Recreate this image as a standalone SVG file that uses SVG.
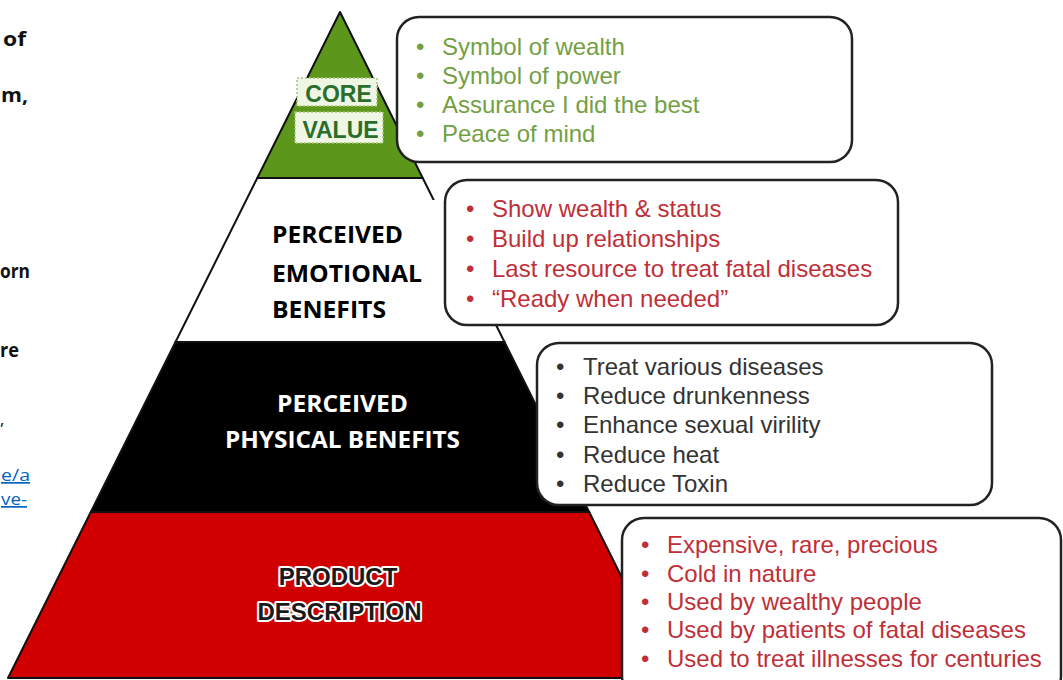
<svg xmlns="http://www.w3.org/2000/svg" width="1063" height="680" viewBox="0 0 1063 680">
<defs>
<style>
.edge{stroke:#111;stroke-width:2;stroke-linejoin:round}
.box{fill:#fff;stroke:#222;stroke-width:2.5}
.t{font-family:"Liberation Sans",Arial,sans-serif;font-size:24px}
.g{fill:#73a043}
.r{fill:#bf2f38}
.k{fill:#333}
.lbl{font-family:"Open Sans","Liberation Sans",sans-serif;font-weight:700;font-size:24px}
.frag{font-family:"Open Sans","Liberation Sans",sans-serif;font-weight:700;font-size:20px;fill:#111}
.link{font-family:"Open Sans","Liberation Sans",sans-serif;font-size:17px;fill:#0563c1;text-decoration:underline}
.core{font-family:"Liberation Sans",Arial,sans-serif;font-weight:700;font-size:23px;fill:#2b6e2b}
.prod{font-family:"Liberation Sans",Arial,sans-serif;font-weight:700;font-size:24px;fill:#1a1a1a;stroke:#fff;stroke-width:4;paint-order:stroke;stroke-linejoin:round}
</style>
</defs>
<rect width="1063" height="680" fill="#fff"/>

<g id="left-fragments">
<text class="frag" x="3" y="46" textLength="23" lengthAdjust="spacingAndGlyphs">of</text>
<text class="frag" x="1" y="102" textLength="27" lengthAdjust="spacingAndGlyphs">m,</text>
<text class="frag" x="0" y="278" textLength="30" lengthAdjust="spacingAndGlyphs">orn</text>
<text class="frag" x="0" y="357" textLength="19" lengthAdjust="spacingAndGlyphs">re</text>
<text class="frag" x="0" y="425" style="font-weight:400;font-size:17px">,</text>
<text class="link" x="1" y="481" textLength="29" lengthAdjust="spacingAndGlyphs">e/a</text>
<text class="link" x="1" y="505" textLength="26" lengthAdjust="spacingAndGlyphs">ve-</text>
</g>

<g id="tier-red">
<polygon class="edge" points="90.8,512 589.2,512 672,678 8,678" fill="#d10000"/>
<text class="prod" x="338" y="585" text-anchor="middle">PRODUCT</text>
<text class="prod" x="339.5" y="620" text-anchor="middle">DESCRIPTION</text>
</g>

<g id="tier-black">
<polygon class="edge" points="175.5,342 504.5,342 589.2,512 90.8,512" fill="#000"/>
<text class="lbl" x="342.5" y="412" text-anchor="middle" fill="#fff" textLength="131" lengthAdjust="spacingAndGlyphs">PERCEIVED</text>
<text class="lbl" x="342.5" y="448" text-anchor="middle" fill="#fff" textLength="235" lengthAdjust="spacingAndGlyphs">PHYSICAL BENEFITS</text>
</g>

<g id="tier-white">
<polygon class="edge" points="257.3,178 422.7,178 504.5,342 175.5,342" fill="#fff"/>
<text class="lbl" x="272" y="243" fill="#000" textLength="131" lengthAdjust="spacingAndGlyphs">PERCEIVED</text>
<text class="lbl" x="272" y="282" fill="#000" textLength="150" lengthAdjust="spacingAndGlyphs">EMOTIONAL</text>
<text class="lbl" x="272" y="318" fill="#000" textLength="114" lengthAdjust="spacingAndGlyphs">BENEFITS</text>
</g>

<g id="tier-green">
<polygon class="edge" points="340,12 422.7,178 257.3,178" fill="#5c971b"/>
<rect x="297" y="78" width="80" height="28" fill="#eff6e4" stroke="#a8c47a" stroke-width="1.5" stroke-dasharray="2 2"/>
<rect x="295" y="112" width="88" height="31" fill="#eff6e4" stroke="#a8c47a" stroke-width="1.5" stroke-dasharray="2 2"/>
<text class="core" x="338.5" y="102" text-anchor="middle">CORE</text>
<text class="core" x="340.5" y="138" text-anchor="middle">VALUE</text>
</g>

<g id="box-core">
<rect class="box" x="397" y="17" width="455" height="145" rx="22"/>
<g class="t g">
<text x="416" y="55">•</text><text x="442" y="55">Symbol of wealth</text>
<text x="416" y="84">•</text><text x="442" y="84">Symbol of power</text>
<text x="416" y="113">•</text><text x="442" y="113">Assurance I did the best</text>
<text x="416" y="142">•</text><text x="442" y="142">Peace of mind</text>
</g>
</g>

<g id="box-emotional">
<rect x="429" y="200" width="20" height="126" fill="#fff"/>
<rect class="box" x="445" y="180" width="453" height="145" rx="22"/>
<g class="t r">
<text x="466" y="217">•</text><text x="492" y="217">Show wealth &amp; status</text>
<text x="466" y="247">•</text><text x="492" y="247">Build up relationships</text>
<text x="466" y="277">•</text><text x="492" y="277">Last resource to treat fatal diseases</text>
<text x="466" y="307">•</text><text x="492" y="307">“Ready when needed”</text>
</g>
</g>

<g id="box-physical">
<rect class="box" x="537" y="343" width="455" height="162" rx="22"/>
<g class="t k">
<text x="556" y="375">•</text><text x="583" y="375">Treat various diseases</text>
<text x="556" y="404">•</text><text x="583" y="404">Reduce drunkenness</text>
<text x="556" y="433">•</text><text x="583" y="433">Enhance sexual virility</text>
<text x="556" y="463">•</text><text x="583" y="463">Reduce heat</text>
<text x="556" y="492">•</text><text x="583" y="492">Reduce Toxin</text>
</g>
</g>

<g id="box-product">
<rect class="box" x="622" y="518" width="439" height="180" rx="22"/>
<g class="t r">
<text x="641" y="553">•</text><text x="667" y="553">Expensive, rare, precious</text>
<text x="641" y="582">•</text><text x="667" y="582">Cold in nature</text>
<text x="641" y="610">•</text><text x="667" y="610">Used by wealthy people</text>
<text x="641" y="638">•</text><text x="667" y="638">Used by patients of fatal diseases</text>
<text x="641" y="667">•</text><text x="667" y="667">Used to treat illnesses for centuries</text>
</g>
</g>

<g id="connectors"></g>
</svg>
